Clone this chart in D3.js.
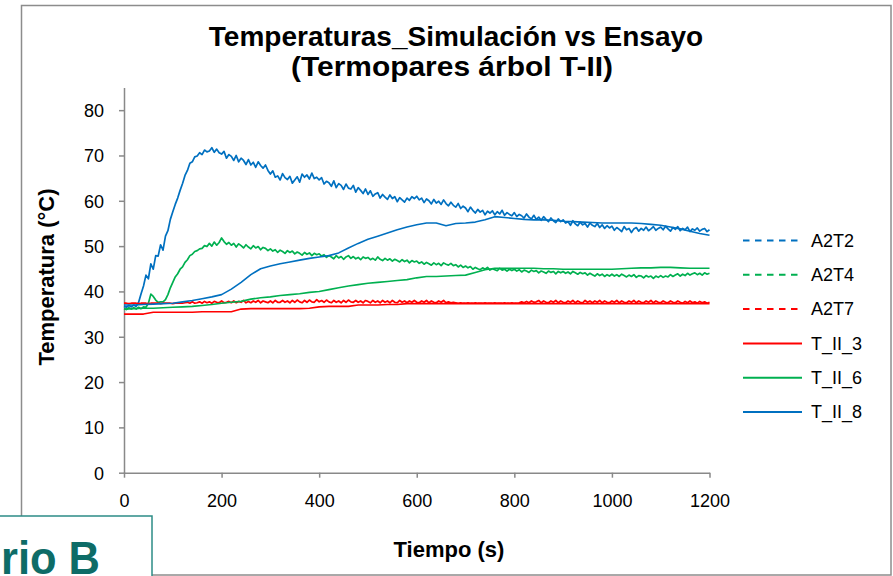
<!DOCTYPE html>
<html>
<head>
<meta charset="utf-8">
<script src="https://cdn.jsdelivr.net/npm/d3@7"></script>
<style>
html,body{margin:0;padding:0;background:#fff;}
svg{display:block;}
text{font-family:"Liberation Sans",Arial,sans-serif;}
</style>
</head>
<body>
<svg id="chart" width="893" height="576"></svg>
<script>
// ---------- DATA ----------
const titleLines = ["Temperaturas_Simulación vs Ensayo", "(Termopares árbol T-II)"];
const xLabel = "Tiempo (s)";
const yLabel = "Temperatura (°C)";
const xTicks = [0, 200, 400, 600, 800, 1000, 1200];
const yTicks = [0, 10, 20, 30, 40, 50, 60, 70, 80];
const seriesNames = ["A2T2", "A2T4", "A2T7", "T_II_3", "T_II_6", "T_II_8"];
const cornerLabel = "rio B";

// measured series (Ensayo), one value every 5 s from 0 to 1200 s
const measuredStep = 5;
const A2T2 = [
36.7,36.5,36.9,36.6,37.0,36.7,37.6,39.5,41.2,43.6,42.8,46.1,44.9,47.9,47.8,50.3,49.1,52.2,53.4,55.9,
57.6,59.2,60.6,62.3,63.8,65.6,66.7,68.3,68.6,69.7,69.9,70.6,70.2,71.2,70.8,71.0,71.7,70.7,71.4,70.6,
70.3,70.9,69.4,70.2,69.8,68.9,70.0,68.6,69.4,68.9,68.0,69.1,67.9,68.5,67.4,68.6,67.8,67.2,67.9,66.7,
65.9,66.6,65.2,65.5,64.6,66.0,65.1,64.7,65.4,63.9,64.6,65.3,64.1,65.9,65.2,65.7,64.8,66.1,64.9,65.2,
64.6,65.1,63.7,64.3,64.0,63.2,64.4,62.9,63.8,63.4,62.5,63.7,62.8,62.6,63.4,61.9,62.9,62.3,61.6,62.6,
61.4,62.2,61.0,61.5,61.8,60.6,61.4,60.8,60.3,61.3,60.5,60.9,59.8,60.7,60.2,59.7,60.6,60.1,60.9,60.5,
61.0,60.2,60.6,59.6,60.4,60.0,59.3,60.3,59.5,59.9,59.2,60.2,59.4,58.9,59.7,59.0,58.6,59.4,58.3,58.8,
58.4,57.6,58.6,57.9,57.3,58.1,57.5,57.9,56.9,57.7,57.3,57.8,56.9,57.6,57.1,57.9,56.8,57.4,57.0,56.7,
57.4,56.5,57.0,56.7,56.2,57.1,56.4,56.0,56.8,55.9,56.4,55.7,56.5,55.9,55.4,56.2,55.6,55.2,56.0,55.4,
55.8,55.1,55.4,54.6,55.6,54.9,54.5,55.3,54.7,55.0,54.2,55.1,54.6,54.3,55.0,54.1,54.7,53.9,54.5,54.0,
54.4,53.5,54.1,53.7,53.2,54.3,53.6,53.9,53.0,53.8,54.1,53.3,53.9,53.5,54.2,53.4,53.8,54.3,53.5,53.9,
54.2,53.6,54.4,53.8,53.3,54.1,53.7,54.3,53.4,53.9,53.6,54.2,53.2,53.8,53.5,54.0,53.3,53.7,53.9,53.2,
53.6];
const A2T4 = [
36.2,36.0,36.4,36.1,36.4,36.1,36.5,36.2,36.6,36.5,37.4,39.4,38.9,38.1,37.6,37.7,37.7,38.2,39.3,40.8,
42.0,43.2,43.9,44.9,45.4,46.4,47.0,47.9,48.2,48.8,49.0,49.4,49.5,50.1,49.9,50.6,50.0,50.9,50.2,50.8,
51.8,51.0,50.4,50.8,50.2,50.6,49.8,50.5,50.1,49.6,50.3,49.8,49.4,50.1,49.6,49.9,49.2,49.7,49.5,49.0,
49.4,48.9,49.2,48.6,49.1,48.8,48.4,49.0,48.6,48.9,48.3,48.7,48.4,48.0,48.6,48.2,48.5,47.9,48.4,48.1,
48.3,47.8,48.1,47.5,47.9,47.6,47.2,47.9,47.4,47.7,47.1,47.6,47.9,47.3,47.7,47.2,47.5,47.0,47.6,47.3,
47.5,47.0,47.3,46.9,47.6,47.1,46.8,47.3,46.9,47.2,46.7,47.1,46.8,46.5,47.0,46.6,46.9,46.3,46.8,46.5,
46.7,46.2,46.5,46.0,46.4,46.1,45.8,46.3,45.9,46.2,45.7,46.3,46.0,45.8,46.2,45.7,45.9,45.4,45.8,45.3,
45.6,45.2,45.5,44.9,45.3,45.0,44.8,45.2,44.9,45.3,44.7,45.0,44.8,44.6,45.1,44.7,44.9,44.5,44.9,44.6,
44.9,44.5,44.8,44.3,44.7,44.5,44.2,44.7,44.4,44.6,44.1,44.5,44.3,44.0,44.5,44.2,44.4,43.9,44.4,44.1,
44.4,44.0,44.3,43.9,44.4,44.1,43.8,44.2,43.9,44.1,43.6,44.0,43.7,43.4,43.9,43.5,43.8,43.3,43.7,43.4,
43.8,43.4,43.7,43.3,43.8,43.5,43.2,43.6,43.3,43.7,43.1,43.5,43.4,43.0,43.5,43.2,43.4,42.9,43.4,43.1,
43.5,43.1,43.4,43.2,43.7,43.3,43.6,43.9,43.4,43.8,43.5,44.0,43.6,43.9,44.1,43.7,44.0,43.6,44.1,43.8,
44.0];
const A2T7 = [
37.4,37.4,37.3,37.4,37.4,37.4,37.3,37.4,37.4,37.4,37.3,37.4,37.4,37.4,37.4,37.3,37.4,37.4,37.4,37.4,
37.3,37.4,37.4,37.4,37.4,37.5,37.6,37.4,37.7,37.4,37.5,37.7,37.4,37.8,37.5,37.7,37.4,37.8,37.6,37.5,
37.9,37.5,37.6,37.8,37.5,37.9,37.5,37.8,37.6,38.0,37.5,37.8,37.5,37.9,37.6,38.0,37.5,37.9,37.7,37.5,
37.9,37.5,38.0,37.6,37.6,38.0,37.6,37.9,37.5,38.0,37.6,38.1,37.7,37.5,38.0,37.6,38.1,37.7,37.6,38.2,
37.7,38.0,37.6,38.1,37.7,37.5,38.0,37.6,37.9,37.5,38.0,37.6,38.1,37.7,37.6,38.0,37.6,37.9,37.5,38.0,
37.8,37.5,38.0,37.6,37.9,37.5,38.0,37.6,37.9,37.5,38.0,37.6,37.5,38.0,37.6,37.9,37.5,37.9,37.6,38.0,
37.6,37.5,37.9,37.6,38.0,37.5,37.9,37.6,37.5,37.9,37.6,38.0,37.5,37.7,37.5,37.6,37.5,37.4,37.5,37.4,
37.4,37.5,37.4,37.4,37.5,37.4,37.4,37.4,37.5,37.4,37.4,37.4,37.5,37.4,37.4,37.4,37.5,37.4,37.4,37.5,
37.4,37.4,37.5,37.7,37.5,37.8,37.5,37.9,37.6,37.7,38.0,37.5,37.9,37.6,37.5,37.9,37.6,38.0,37.5,37.9,
37.6,37.5,37.9,37.6,38.0,37.5,37.9,37.6,37.5,38.0,37.6,37.9,37.5,37.9,37.6,38.0,37.5,37.9,37.6,37.5,
37.9,37.6,38.0,37.5,37.9,37.6,37.5,37.9,37.6,38.0,37.5,37.9,37.6,37.5,37.9,37.6,38.0,37.5,37.9,37.6,
37.5,37.9,37.6,37.5,37.9,37.6,37.5,37.9,37.6,37.4,37.8,37.5,37.9,37.5,37.7,37.4,37.8,37.5,37.7,37.4,
37.6];

// simulated series, one value every 20 s from 0 to 1200 s
const simulatedStep = 20;
const T_II_3 = [
35.0,35.0,35.0,35.4,35.4,35.4,35.4,35.4,35.5,35.5,
35.5,35.5,36.1,36.2,36.2,36.2,36.2,36.2,36.2,36.3,
36.6,36.7,36.7,36.7,37.0,37.0,37.0,37.1,37.1,37.3,
37.3,37.3,37.3,37.3,37.3,37.3,37.3,37.3,37.3,37.3,
37.3,37.3,37.3,37.3,37.3,37.3,37.3,37.3,37.3,37.3,
37.3,37.3,37.3,37.3,37.3,37.3,37.3,37.3,37.3,37.3,
37.3];
const T_II_6 = [
36.1,36.2,36.3,36.3,36.4,36.5,36.6,36.7,36.9,37.1,
37.4,37.6,37.8,38.3,38.6,38.8,39.1,39.3,39.5,39.8,
40.0,40.4,40.8,41.2,41.5,41.8,42.0,42.2,42.4,42.6,
43.0,43.3,43.3,43.4,43.5,43.6,44.2,44.8,45.1,45.1,
45.1,45.1,45.1,45.0,45.0,44.9,44.9,44.9,44.9,44.9,
44.9,45.0,45.1,45.2,45.2,45.3,45.3,45.2,45.1,45.1,
45.1];
const T_II_8 = [
37.0,37.0,37.1,37.2,37.3,37.4,37.7,38.0,38.4,38.8,
39.3,40.5,42.0,43.7,45.0,45.6,46.1,46.5,46.9,47.3,
47.6,47.9,48.5,49.6,50.6,51.5,52.2,52.9,53.6,54.2,
54.7,55.1,55.1,54.5,55.0,55.1,55.3,55.8,56.5,56.3,
56.1,55.9,55.8,55.8,55.7,55.5,55.4,55.3,55.2,55.1,
55.1,55.1,55.1,55.0,54.8,54.6,54.2,53.8,53.3,52.8,
52.4];

// ---------- STYLE ----------
const seriesStyle = {
  A2T2:   {color: "#0070C0", dashed: true},
  A2T4:   {color: "#00B050", dashed: true},
  A2T7:   {color: "#FF0000", dashed: true},
  T_II_3: {color: "#FF0000", dashed: false},
  T_II_6: {color: "#00B050", dashed: false},
  T_II_8: {color: "#0070C0", dashed: false}
};
const seriesValues = {A2T2, A2T4, A2T7, T_II_3, T_II_6, T_II_8};
const seriesStep = {A2T2: measuredStep, A2T4: measuredStep, A2T7: measuredStep,
                    T_II_3: simulatedStep, T_II_6: simulatedStep, T_II_8: simulatedStep};

// ---------- DRAW ----------
const svg = d3.select("#chart");
const axisColor = "#898989";

// chart frame
svg.append("rect").attr("x", 21.5).attr("y", 5.5).attr("width", 869.5).attr("height", 569.5)
  .attr("fill", "#fff").attr("stroke", "#8c8c8c").attr("stroke-width", 1.5);

const x = d3.scaleLinear().domain([0, 1200]).range([124, 709.5]);
const y = d3.scaleLinear().domain([0, 85]).range([472.7, 87.5]);

// title
svg.append("text").attr("x", 456).attr("y", 46).attr("text-anchor", "middle")
  .attr("font-size", 28).attr("font-weight", "bold").text(titleLines[0]);
svg.append("text").attr("x", 452).attr("y", 76).attr("text-anchor", "middle")
  .attr("font-size", 28).attr("font-weight", "bold")
  .attr("textLength", 322).attr("lengthAdjust", "spacingAndGlyphs").text(titleLines[1]);

// axes
const yAxis = d3.axisLeft(y).tickValues(yTicks).tickSize(5).tickSizeOuter(0).tickPadding(15)
  .tickFormat(d3.format("d"));
const gy = svg.append("g").attr("transform", "translate(124,0)").call(yAxis);
const xAxis = d3.axisBottom(x).tickValues(xTicks).tickSize(5).tickSizeOuter(0).tickPadding(17)
  .tickFormat(d3.format("d"));
const gx = svg.append("g").attr("transform", `translate(0,${y(0)})`).call(xAxis);
[gx, gy].forEach(g => {
  g.select(".domain").attr("stroke", axisColor).attr("stroke-width", 1.5);
  g.selectAll(".tick line").attr("stroke", axisColor).attr("stroke-width", 1.5);
  g.selectAll(".tick text").attr("fill", "#000").attr("font-size", 18)
    .attr("font-family", "'Liberation Sans', Arial, sans-serif");
});
gy.selectAll(".tick text").attr("dy", "0.35em");

// axis titles
svg.append("text").attr("x", 449).attr("y", 557).attr("text-anchor", "middle")
  .attr("font-size", 22).attr("font-weight", "bold").text(xLabel);
svg.append("text").attr("transform", "translate(54,277) rotate(-90)").attr("text-anchor", "middle")
  .attr("font-size", 22).attr("font-weight", "bold").text(yLabel);

// lines (the dense measured series render as continuous lines, as in the reference)
const plot = svg.append("g");
seriesNames.forEach(name => {
  const vals = seriesValues[name];
  const step = seriesStep[name];
  const line = d3.line().x((d, i) => x(i * step)).y(d => y(d));
  plot.append("path").datum(vals)
    .attr("d", line)
    .attr("fill", "none")
    .attr("stroke", seriesStyle[name].color)
    .attr("stroke-width", seriesStyle[name].dashed ? 1.7 : 1.6)
    .attr("stroke-linejoin", "round");
});

// legend
const legendRowsY = d3.scalePoint().domain(seriesNames).range([240.5, 412]);
const lg = svg.append("g");
seriesNames.forEach(name => {
  const yy = legendRowsY(name);
  lg.append("line").attr("x1", 743).attr("x2", seriesStyle[name].dashed ? 800 : 802)
    .attr("y1", yy).attr("y2", yy)
    .attr("stroke", seriesStyle[name].color).attr("stroke-width", 2)
    .attr("stroke-dasharray", seriesStyle[name].dashed ? "6.5,5.5" : null);
  lg.append("text").attr("x", 811).attr("y", yy).attr("dy", "0.35em")
    .attr("font-size", 18).attr("fill", "#000").text(name);
});

// overlapping slide box in the bottom-left corner
svg.append("rect").attr("x", -2).attr("y", 516).attr("width", 154).attr("height", 64)
  .attr("fill", "#fff").attr("stroke", "#2c8c86").attr("stroke-width", 1.5);
svg.append("text").attr("x", 1).attr("y", 574)
  .attr("font-family", "'Open Sans', sans-serif").attr("font-weight", "bold")
  .attr("font-size", 47).attr("fill", "#0e6c67")
  .attr("textLength", 99).attr("lengthAdjust", "spacingAndGlyphs")
  .text(cornerLabel);
</script>
</body>
</html>
